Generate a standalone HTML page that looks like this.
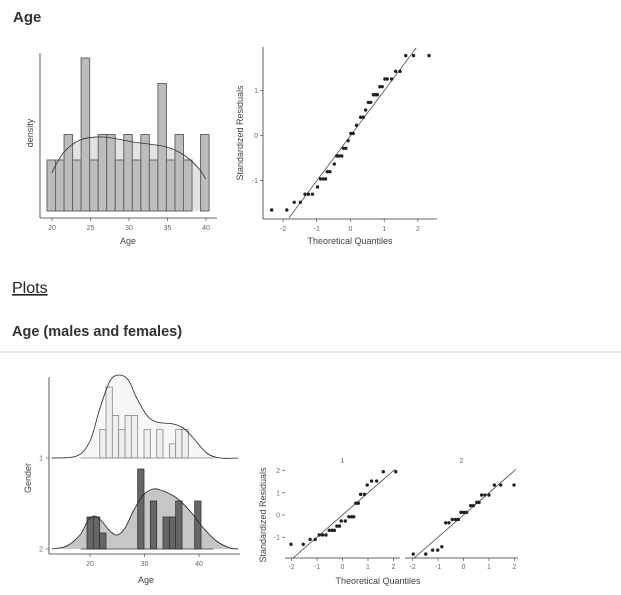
<!DOCTYPE html>
<html><head><meta charset="utf-8">
<style>
html,body{margin:0;padding:0;background:#fff;width:621px;height:595px;overflow:hidden}
svg{display:block;font-family:"Liberation Sans",sans-serif}
.h{font-family:"Liberation Sans",sans-serif;font-weight:bold;fill:#333}
.tk{font-size:7px;fill:#666}
.at{font-size:9px;fill:#444}
</style></head><body>
<svg id="s" width="621" height="595" viewBox="0 0 621 595" xmlns="http://www.w3.org/2000/svg">
<text x="13" y="22" class="h" font-size="15">Age</text>
<text x="12" y="293" font-size="16" fill="#222" text-decoration="underline">Plots</text>
<text x="12" y="336" class="h" font-size="14.5">Age (males and females)</text>
<line x1="0" y1="352" x2="621" y2="352" stroke="#ccc" stroke-width="1"/>
<g id="hist"></g>
<g id="qq"></g>
<g id="ridge"></g>
<g id="qq2"></g>
</svg>
<script>
// ---------- data ----------
const histBinStart = 19.35, histBinWidth = 1.108;
const histCounts = [2,2,3,2,6,2,3,3,2,3,2,3,2,5,2,3,2,0,3];
const histDensAge = [19.96,21.47,23.64,26.67,30.56,34.89,37.49,39.22,39.96];
const histDens = [0.038,0.058,0.071,0.074,0.069,0.064,0.054,0.041,0.032];
const ageTicks = [20,25,30,35,40];

const qqX = [-2.34,-1.89,-1.67,-1.49,-1.35,-1.25,-1.13,-0.98,-0.89,-0.81,-0.74,-0.69,-0.61,-0.48,-0.41,-0.34,-0.26,-0.21,-0.14,-0.07,0.01,0.08,0.18,0.30,0.38,0.45,0.53,0.60,0.68,0.75,0.80,0.87,0.94,1.02,1.09,1.22,1.34,1.47,1.64,1.87,2.33];
const qqY = [-1.65,-1.65,-1.48,-1.48,-1.30,-1.30,-1.30,-1.14,-0.96,-0.96,-0.96,-0.80,-0.80,-0.63,-0.45,-0.45,-0.45,-0.28,-0.28,-0.11,0.05,0.05,0.23,0.41,0.41,0.57,0.74,0.74,0.91,0.91,0.91,1.09,1.09,1.26,1.26,1.26,1.43,1.43,1.78,1.78,1.78];
const qqXTicks = [-2,-1,0,1,2];
const qqYTicks = [-1,0,1];

const ridgeBinStart = 18.29, ridgeBinWidth = 1.162;
const g1Counts = [0,0,0,2,5,3,2,3,3,0,2,0,2,0,1,2,2,0,0,0,0];
const g2Counts = [0,2,2,1,0,0,0,0,0,5,0,3,0,2,2,3,0,0,3,0,0];
const g1DensAge = [12.97,17.55,20,21.83,23.67,25.32,27.03,28.56,30.4,32.2,35.3,37.1,38.95,41.4,43.85,47.2];
const g1Dens = [0,0.002,0.017,0.050,0.077,0.083,0.078,0.060,0.043,0.036,0.034,0.030,0.020,0.005,0,0];
const g2DensAge = [12.97,15.72,18.17,19.69,20.92,22.14,23.67,25.0,26.42,27.95,29.78,31.6,33.45,35.9,38.35,40.8,43.2,45.7,47.2];
const g2Dens = [0,0.003,0.014,0.029,0.033,0.028,0.018,0.014,0.021,0.038,0.054,0.060,0.058,0.051,0.038,0.021,0.008,0.001,0];
const ridgeTicks = [20,30,40];
const genderLabels = ["1","2"];

const p1X = [-2.02,-1.54,-1.27,-1.07,-0.91,-0.78,-0.65,-0.52,-0.41,-0.32,-0.22,-0.12,-0.05,0.11,0.25,0.36,0.44,0.52,0.62,0.71,0.86,0.97,1.14,1.34,1.60,2.09];
const p1Y = [-1.32,-1.32,-1.10,-1.10,-0.90,-0.90,-0.90,-0.69,-0.69,-0.69,-0.50,-0.50,-0.27,-0.27,-0.08,-0.08,-0.08,0.53,0.53,0.93,0.93,1.35,1.53,1.53,1.95,1.95];
const p2X = [-1.97,-1.48,-1.21,-1.01,-0.85,-0.70,-0.57,-0.44,-0.31,-0.20,-0.10,0.01,0.12,0.28,0.39,0.52,0.61,0.71,0.84,1.0,1.21,1.46,1.98];
const p2Y = [-1.76,-1.76,-1.58,-1.58,-1.43,-0.35,-0.35,-0.20,-0.20,-0.20,0.12,0.12,0.12,0.42,0.42,0.57,0.57,0.90,0.90,0.90,1.35,1.35,1.35];
const qq2YTicks = [-1,0,1,2];
const panelTitles = ["1","2"];

// ---------- helpers ----------
const NS = "http://www.w3.org/2000/svg";
function mk(parent, tag, attrs, text){
  const e = document.createElementNS(NS, tag);
  for (const k in attrs) e.setAttribute(k, attrs[k]);
  if (text !== undefined) e.textContent = text;
  parent.appendChild(e);
  return e;
}
function path(pts){ return pts.map((p,i)=>(i?"L":"M")+p[0].toFixed(1)+","+p[1].toFixed(1)).join(""); }
function smooth(pts){
  let d = "M"+pts[0][0].toFixed(1)+","+pts[0][1].toFixed(1);
  for(let i=0;i<pts.length-1;i++){
    const p0=pts[Math.max(0,i-1)],p1=pts[i],p2=pts[i+1],p3=pts[Math.min(pts.length-1,i+2)];
    const c1=[p1[0]+(p2[0]-p0[0])/6,p1[1]+(p2[1]-p0[1])/6];
    const c2=[p2[0]-(p3[0]-p1[0])/6,p2[1]-(p3[1]-p1[1])/6];
    d+="C"+c1[0].toFixed(1)+","+c1[1].toFixed(1)+" "+c2[0].toFixed(1)+","+c2[1].toFixed(1)+" "+p2[0].toFixed(1)+","+p2[1].toFixed(1);
  }
  return d;
}

// ---------- top histogram ----------
(function(){
  const g = document.getElementById("hist");
  const x = a => 52 + (a-20)*7.7;
  const base = 211, cScale = 25.5, dScale = 1000;
  const y = c => base - c*cScale;
  const dy = d => base - d*dScale;
  const pts = histDensAge.map((a,i)=>[x(a),dy(histDens[i])]);
  const fa = mk(g,"path",{d:smooth(pts)+"L"+pts[pts.length-1][0]+","+base+"L"+pts[0][0]+","+base+"Z",fill:"#e3e3e3",stroke:"none"});
  
  
  histCounts.forEach((c,i)=>{
    if(!c) return;
    const a0 = histBinStart + i*histBinWidth;
    const r = mk(g,"rect",{x:x(a0),y:y(c),width:histBinWidth*7.7,height:c*cScale,fill:"#bdbdbd",stroke:"#666","stroke-width":1});
    
    
  });
  const dl = mk(g,"path",{d:smooth(pts),fill:"none",stroke:"#333","stroke-width":0.8});
  
  
  mk(g,"line",{x1:40,y1:53,x2:40,y2:218,stroke:"#333","stroke-width":0.8});
  mk(g,"line",{x1:40,y1:218,x2:217,y2:218,stroke:"#333","stroke-width":0.8});
  ageTicks.forEach(t=>{
    mk(g,"line",{x1:x(t),y1:218,x2:x(t),y2:221,stroke:"#333","stroke-width":0.6});
    const tl = mk(g,"text",{x:x(t),y:230,"text-anchor":"middle",class:"tk"},t);
    
    
  });
  const xt = mk(g,"text",{x:128,y:244,"text-anchor":"middle",class:"at"},"Age");
  
  
  const yt = mk(g,"text",{x:0,y:0,"text-anchor":"middle",class:"at",transform:"translate(33,133) rotate(-90)"},"density");
  
  
})();

// ---------- top QQ ----------
(function(){
  const g = document.getElementById("qq");
  const x = v => 350.5 + v*33.7;
  const y = v => 135.7 - v*45;
  mk(g,"line",{x1:263,y1:47,x2:263,y2:219,stroke:"#333","stroke-width":0.8});
  mk(g,"line",{x1:263,y1:219,x2:437,y2:219,stroke:"#333","stroke-width":0.8});
  const rl = mk(g,"line",{x1:x(-1.83),y1:y(-1.83),x2:x(1.95),y2:y(1.95),stroke:"#333","stroke-width":0.7});
  
  
  qqX.forEach((v,i)=>{
    const c = mk(g,"circle",{cx:x(v),cy:y(qqY[i]),r:1.7,fill:"#222"});
    
    
  });
  qqXTicks.forEach(t=>{
    mk(g,"line",{x1:x(t),y1:219,x2:x(t),y2:222,stroke:"#333","stroke-width":0.6});
    const tl = mk(g,"text",{x:x(t),y:231,"text-anchor":"middle",class:"tk"},t);
    
    
  });
  qqYTicks.forEach(t=>{
    mk(g,"line",{x1:260,y1:y(t),x2:263,y2:y(t),stroke:"#333","stroke-width":0.6});
    const tl = mk(g,"text",{x:258,y:y(t)+2.5,"text-anchor":"end",class:"tk"},t);
    
    
  });
  const xt = mk(g,"text",{x:350,y:244,"text-anchor":"middle",class:"at"},"Theoretical Quantiles");
  
  
  const yt = mk(g,"text",{x:0,y:0,"text-anchor":"middle",class:"at",transform:"translate(243,133) rotate(-90)"},"Standardized Residuals");
  
  
})();

// ---------- ridge plot ----------
(function(){
  const g = document.getElementById("ridge");
  const x = a => 90 + (a-20)*5.45;
  const bases = [458, 549];
  const cScales = [14.2, 16];
  const dScale = 1000;
  const groups = [
    {counts:g1Counts, dAge:g1DensAge, dens:g1Dens, dfill:"#f7f7f7", bfill:"#efefef", bstroke:"#888"},
    {counts:g2Counts, dAge:g2DensAge, dens:g2Dens, dfill:"#c6c6c6", bfill:"#666", bstroke:"#333"}
  ];
  groups.forEach((gr,gi)=>{
    const base = bases[gi];
    const pts = gr.dAge.map((a,i)=>[x(a), base - gr.dens[i]*dScale]);
    const area = mk(g,"path",{d:smooth(pts)+"L"+pts[pts.length-1][0]+","+base+"L"+pts[0][0]+","+base+"Z",fill:gr.dfill,stroke:"none"});
    
    
    gr.counts.forEach((c,i)=>{
      if(!c) return;
      const a0 = ridgeBinStart + i*ridgeBinWidth;
      const r = mk(g,"rect",{x:x(a0),y:base-c*cScales[gi],width:ridgeBinWidth*5.45,height:c*cScales[gi],fill:gr.bfill,stroke:gr.bstroke,"stroke-width":0.8});
      
      
    });
    mk(g,"line",{x1:x(ridgeBinStart),y1:base,x2:x(ridgeBinStart+gr.counts.length*ridgeBinWidth),y2:base,stroke:gr.bstroke,"stroke-width":0.8});
    const dl = mk(g,"path",{d:smooth(pts),fill:"none",stroke:"#222","stroke-width":0.8});
    
    
    mk(g,"line",{x1:46,y1:base,x2:49,y2:base,stroke:"#333","stroke-width":0.6});
    const tl = mk(g,"text",{x:43,y:base+2.5,"text-anchor":"end",class:"tk"},genderLabels[gi]);
    
    
  });
  mk(g,"line",{x1:49,y1:377,x2:49,y2:554,stroke:"#333","stroke-width":0.8});
  mk(g,"line",{x1:49,y1:554,x2:240,y2:554,stroke:"#333","stroke-width":0.8});
  ridgeTicks.forEach(t=>{
    mk(g,"line",{x1:x(t),y1:554,x2:x(t),y2:557,stroke:"#333","stroke-width":0.6});
    const tl = mk(g,"text",{x:x(t),y:566,"text-anchor":"middle",class:"tk"},t);
    
    
  });
  const xt = mk(g,"text",{x:146,y:583,"text-anchor":"middle",class:"at"},"Age");
  
  
  const yt = mk(g,"text",{x:0,y:0,"text-anchor":"middle",class:"at",transform:"translate(31,478) rotate(-90)"},"Gender");
  
  
})();

// ---------- bottom QQ panels ----------
(function(){
  const g = document.getElementById("qq2");
  const y = v => 515 - v*22.2;
  const panels = [{x0:285,x1:400,zero:342.5,xs:p1X,ys:p1Y},{x0:405,x1:518,zero:463.5,xs:p2X,ys:p2Y}];
  panels.forEach((p,pi)=>{
    const x = v => p.zero + v*25.5;
    mk(g,"line",{x1:p.x0,y1:558,x2:p.x1,y2:558,stroke:"#333","stroke-width":0.8});
    const lo = -1.95, hi = 2.05;
    const rl = mk(g,"line",{x1:x(lo),y1:y(lo),x2:x(hi),y2:y(hi),stroke:"#333","stroke-width":0.7});
    
    
    p.xs.forEach((v,i)=>{
      const c = mk(g,"circle",{cx:x(v),cy:y(p.ys[i]),r:1.7,fill:"#222"});
      
      
    });
    qqXTicks.forEach(t=>{
      mk(g,"line",{x1:x(t),y1:558,x2:x(t),y2:561,stroke:"#333","stroke-width":0.6});
      const tl = mk(g,"text",{x:x(t),y:569,"text-anchor":"middle",class:"tk"},t);
      
      
    });
    const pt = mk(g,"text",{x:(p.x0+p.x1)/2,y:463,"text-anchor":"middle",class:"tk"},panelTitles[pi]);
    
    
  });
  qq2YTicks.forEach(t=>{
    mk(g,"line",{x1:282,y1:y(t),x2:285,y2:y(t),stroke:"#333","stroke-width":0.6});
    const tl = mk(g,"text",{x:280,y:y(t)+2.5,"text-anchor":"end",class:"tk"},t);
    
    
  });
  const xt = mk(g,"text",{x:378,y:584,"text-anchor":"middle",class:"at"},"Theoretical Quantiles");
  
  
  const yt = mk(g,"text",{x:0,y:0,"text-anchor":"middle",class:"at",transform:"translate(266,515) rotate(-90)"},"Standardized Residuals");
  
  
})();
</script>
</body></html>
